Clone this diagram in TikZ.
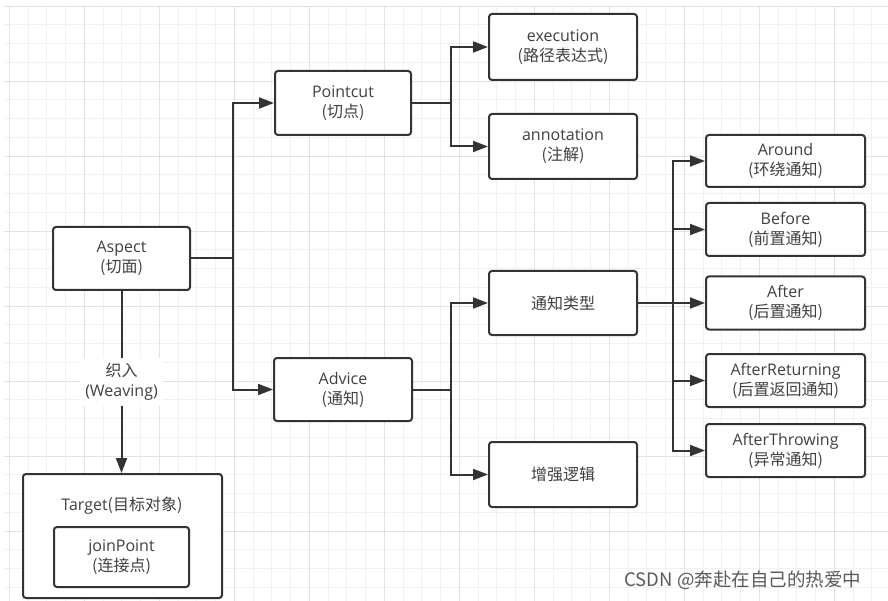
\documentclass[tikz,border=0pt]{standalone}
\usepackage{fontspec}
\setmainfont{Open Sans}
\newfontfamily\cjk{Noto Sans CJK SC}
\usetikzlibrary{arrows.meta, positioning}
\definecolor{linec}{HTML}{333333}
\definecolor{textc}{HTML}{404040}
\definecolor{gridmin}{HTML}{f1f1f1}
\definecolor{gridmaj}{HTML}{e2e2e2}
\definecolor{markc}{HTML}{5a5a5a}

\begin{document}
\begin{tikzpicture}[x=1pt, y=-1pt,
                        >={Triangle[length=15pt, width=11pt]},
                        box/.style={draw=linec, line width=2pt, rounded corners=3pt, fill=white,
                                    text=textc, align=center, font=\fontsize{16}{20}\selectfont},
                        leaf/.style={box, minimum width=159pt, minimum height=53pt},
                        mid/.style={box, minimum width=148pt, minimum height=65pt},
                        link/.style={draw=linec, line width=2pt}]
                    \useasboundingbox (0,0) rectangle (888,601);
                    \fill[white] (0,0) rectangle (888,601);
                    \foreach \i in {0,...,46} {\draw[gridmin, line width=0.8pt] ({9.3+18.75*\i},6) -- ({9.3+18.75*\i},601);}
                    \foreach \i in {0,...,31} {\draw[gridmin, line width=0.8pt] (4,{6+18.75*\i}) -- (888,{6+18.75*\i});}
                    \foreach \i in {0,...,11} {\draw[gridmaj, line width=0.8pt] ({9.3+75*\i},6) -- ({9.3+75*\i},601);}
                    \foreach \i in {0,...,7} {\draw[gridmaj, line width=0.8pt] (4,{6+75*\i}) -- (888,{6+75*\i});}

                    \node[box, minimum width=137pt, minimum height=63pt] (aspect) at (121.5,258.5) {Aspect\\{\cjk (切面)}};
                    \node[box, minimum width=136pt, minimum height=64pt] (pointcut) at (343,103) {Pointcut\\{\cjk (切点)}};
                    \node[box, minimum width=138pt, minimum height=63pt] (advice) at (343,389.5) {Advice\\{\cjk (通知)}};
                    \node[mid, minimum height=66pt] (execution) at (563,47) {execution\\{\cjk (路径表达式)}};
                    \node[mid] (annotation) at (563,146.5) {annotation\\{\cjk (注解)}};
                    \node[mid, minimum height=64pt] (kinds) at (563,303) {\cjk 通知类型};
                    \node[mid] (enhance) at (563,474.5) {\cjk 增强逻辑};
                    \node[leaf, minimum height=52pt] (around) at (785.5,161) {Around\\{\cjk (环绕通知)}};
                    \node[leaf] (before) at (785.5,229.5) {Before\\{\cjk (前置通知)}};
                    \node[leaf] (after) at (785.5,303) {After\\{\cjk (后置通知)}};
                    \node[leaf] (afterret) at (785.5,380.5) {AfterReturning\\{\cjk (后置返回通知)}};
                    \node[leaf] (afterthrow) at (785.5,450.5) {AfterThrowing\\{\cjk (异常通知)}};
                    \node[box, minimum width=199pt, minimum height=124pt] (target) at (122.5,536) {};
                    \node[text=textc, font=\fontsize{16}{20}\selectfont] (targetname) at (122,506) {Target{\cjk (目标对象)}};
                    \node[box, minimum width=135pt, minimum height=60pt] (joinpoint) at (121.5,557) {joinPoint\\{\cjk (连接点)}};

                    \draw[link, ->] (aspect.east) -- ++(42,0) |- (pointcut.west);
                    \draw[link, ->] (aspect.east) -- ++(42,0) |- (advice.west);
                    \draw[link, ->] (pointcut.east) -- ++(39,0) |- (execution.west);
                    \draw[link, ->] (pointcut.east) -- ++(39,0) |- (annotation.west);
                    \draw[link, ->] (advice.east) -- ++(38,0) |- (kinds.west);
                    \draw[link, ->] (advice.east) -- ++(38,0) |- (enhance.west);
                    \foreach \t in {around, before, after, afterret, afterthrow}
                        \draw[link, ->] (kinds.east) -- ++(35,0) |- (\t.west);
                    \draw[link, ->] (aspect.south) -- (aspect.south |- target.north)
                        node[midway, fill=white, text=textc, align=center, inner sep=5pt,
                             font=\fontsize{16}{20}\selectfont] (weave) {{\cjk 织入}\\(Weaving)};

                    \node[anchor=west, text=markc, font=\cjk\fontsize{18.5}{20}\selectfont] (mark) at (621,580) {CSDN @奔赴在自己的热爱中};
                \end{tikzpicture}
\end{document}
